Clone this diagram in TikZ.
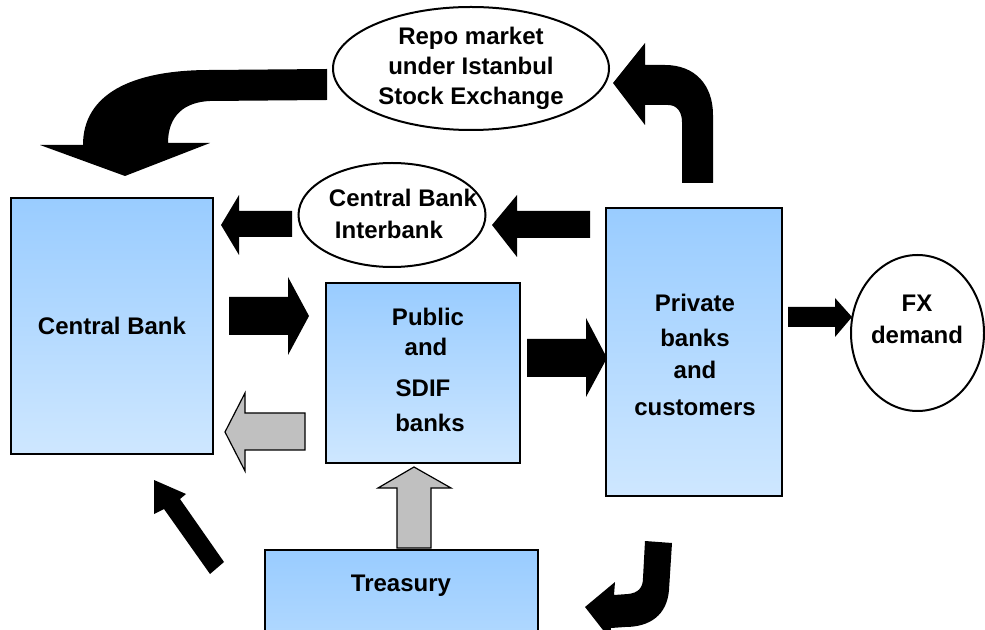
\documentclass[tikz,border=0pt]{standalone}
\usepackage{fontspec}
\setmainfont{Liberation Sans}
\usetikzlibrary{shapes.geometric}
\definecolor{boxtop}{RGB}{153,204,255}
\definecolor{boxbot}{RGB}{206,231,255}
\definecolor{greyarrow}{RGB}{192,192,192}
\begin{document}
\begin{tikzpicture}[x=0.5pt,y=-0.5pt,
  every node/.style={font=\fontsize{12pt}{15pt}\selectfont\bfseries},
  box/.style={draw=black, line width=1pt, top color=boxtop, bottom color=boxbot,
    rectangle, inner sep=0pt, align=center},
  oval/.style={draw=black, line width=1pt, ellipse, fill=white, inner sep=0pt},
  txt/.style={align=center, inner sep=0pt},
  solidarrow/.style={fill=black},
  greyarrowstyle/.style={fill=greyarrow, draw=black, line width=0.6pt, line join=miter}]
\useasboundingbox (0,0) rectangle (985,630);
\clip (0,0) rectangle (985,630);

% institutions
\node[box, minimum width=101pt, minimum height=128pt] (cb) at (112,326) {Central Bank};
\node[box, minimum width=97pt, minimum height=90pt] (psb) at (423,373) {};
\node[txt] (psblabel) at (423,370)
  {\hspace*{5pt}Public\\\hspace*{3pt}and\\[5.5pt]SDIF\\[2.5pt]\hspace*{7pt}banks};
\node[box, minimum width=88pt, minimum height=144pt] (pbc) at (694,352) {};
\node[txt] (pbclabel) at (695,355)
  {Private\\[2.5pt]banks\\[1pt]and\\[3.5pt]customers};
\node[box, minimum width=136.5pt, minimum height=100pt, anchor=north] (tr) at (401.5,549) {};
\node[txt] (trlabel) at (401,586) {Treasury};

% markets
\node[oval, minimum width=138pt, minimum height=61.5pt] (repo) at (471,68.5) {};
\node[txt] (repolabel) at (repo.center) {Repo market\\under Istanbul\\Stock Exchange};
\node[oval, minimum width=93.5pt, minimum height=52pt] (cbi) at (392,215) {};
\node[txt, align=left] (cbilabel) at (393,214)
  {\hspace*{10pt}Central Bank\\[1pt]\hspace*{13pt}Interbank};
\node[oval, minimum width=66.5pt, minimum height=78pt] (fx) at (917.5,333) {};
\node[txt] (fxlabel) at (917,319) {FX\\[1pt]demand};

% repo market -> central bank (curved)
\fill[solidarrow] (327,69) -- (210,70) .. controls (130,70) and (83,95) .. (83,145)
  -- (40,145) -- (125,176) -- (210,143) -- (168,143)
  .. controls (168,115) and (185,102) .. (210,101) -- (327,100) -- cycle;

% private banks -> repo market (curved)
\fill[solidarrow] (713,183) -- (713,115) .. controls (713,85) and (695,65) .. (665,65)
  -- (645,65) -- (645,43) -- (613,83) -- (645,125) -- (645,105) -- (668,105)
  .. controls (677,105) and (682,112) .. (682,122) -- (682,183) -- cycle;

% interbank market -> central bank
\fill[solidarrow] (292,211) -- (239,211) -- (239,195) -- (221,225) -- (239,255)
  -- (239,237) -- (292,237) -- cycle;
% private banks -> interbank market
\fill[solidarrow] (590,211) -- (517,211) -- (517,195) -- (492,225) -- (517,257)
  -- (517,238) -- (590,238) -- cycle;

% central bank -> public banks
\fill[solidarrow] (229,297) -- (288,297) -- (288,277) -- (309,316) -- (288,355)
  -- (288,335) -- (229,335) -- cycle;
% public banks -> central bank
\draw[greyarrowstyle] (305,413) -- (245,413) -- (245,393) -- (225,432) -- (245,471)
  -- (245,450) -- (305,450) -- cycle;

% public banks -> private banks
\fill[solidarrow] (527,339) -- (586,339) -- (586,318) -- (607,358) -- (586,397)
  -- (586,377) -- (527,377) -- cycle;
% private banks -> FX demand
\fill[solidarrow] (788,307) -- (835,307) -- (835,298) -- (852,317) -- (835,337)
  -- (835,327) -- (788,327) -- cycle;

% treasury -> public banks
\draw[greyarrowstyle] (397,548) -- (397,488) -- (378,488) -- (414,467) -- (451,488)
  -- (431,488) -- (431,548) -- cycle;

% treasury -> central bank
\fill[solidarrow] (154,480) -- (186,494) -- (180,499) -- (224,562) -- (210,574)
  -- (164,509) -- (154,514) -- cycle;

% private banks -> treasury (curved)
\fill[solidarrow] (645,541) -- (672,543) -- (669,590) .. controls (667,615) and (650,627) .. (625,627)
  -- (611,628) -- (610,639) -- (585,607) -- (615,582) -- (614,595) -- (628,594)
  .. controls (638,593) and (643,588) .. (643,578) -- cycle;
\end{tikzpicture}
\end{document}
